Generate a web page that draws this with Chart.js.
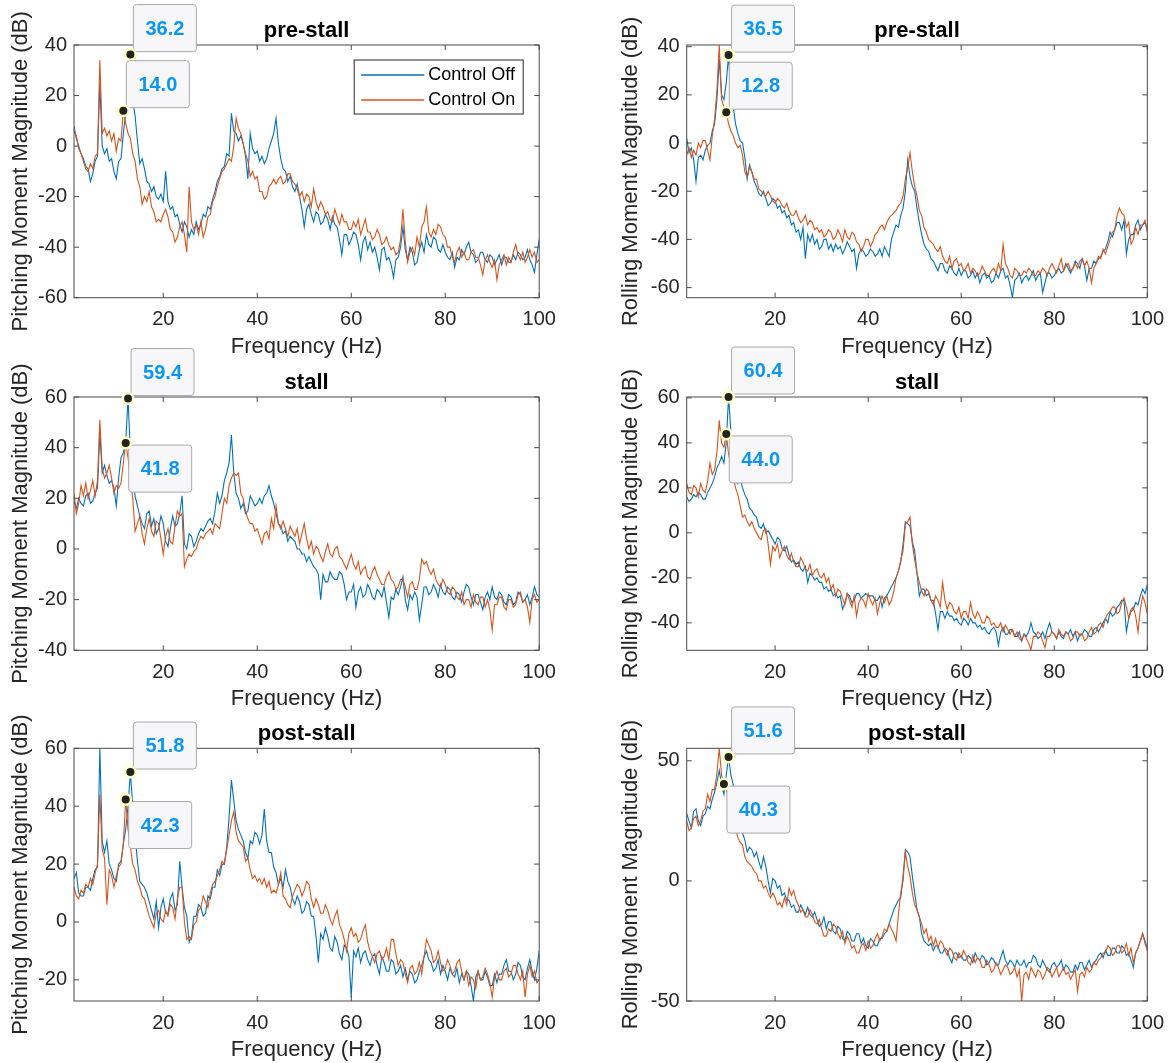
<!DOCTYPE html>
<html>
<head>
<meta charset="utf-8">
<script src="https://cdn.jsdelivr.net/npm/chart.js@4/dist/chart.umd.min.js"></script>
<style>
  html, body { margin: 0; padding: 0; background: #fff; }
  body { width: 1174px; height: 1063px; position: relative; overflow: hidden; }
  canvas { position: absolute; }
</style>
</head>
<body>
<canvas id="c1"></canvas>
<canvas id="c2"></canvas>
<canvas id="c3"></canvas>
<canvas id="c4"></canvas>
<canvas id="c5"></canvas>
<canvas id="c6"></canvas>
<script>
// Frecuencias (Hz) compartidas por todas las curvas, paso de 0.5 Hz
const freq = [
  1, 1.5, 2, 2.5, 3, 3.5, 4, 4.5, 5, 5.5, 6, 6.5, 7, 7.5, 8, 8.5, 9, 9.5, 10, 10.5,
  11, 11.5, 12, 12.5, 13, 13.5, 14, 14.5, 15, 15.5, 16, 16.5, 17, 17.5, 18, 18.5, 19, 19.5, 20, 20.5,
  21, 21.5, 22, 22.5, 23, 23.5, 24, 24.5, 25, 25.5, 26, 26.5, 27, 27.5, 28, 28.5, 29, 29.5, 30, 30.5,
  31, 31.5, 32, 32.5, 33, 33.5, 34, 34.5, 35, 35.5, 36, 36.5, 37, 37.5, 38, 38.5, 39, 39.5, 40, 40.5,
  41, 41.5, 42, 42.5, 43, 43.5, 44, 44.5, 45, 45.5, 46, 46.5, 47, 47.5, 48, 48.5, 49, 49.5, 50, 50.5,
  51, 51.5, 52, 52.5, 53, 53.5, 54, 54.5, 55, 55.5, 56, 56.5, 57, 57.5, 58, 58.5, 59, 59.5, 60, 60.5,
  61, 61.5, 62, 62.5, 63, 63.5, 64, 64.5, 65, 65.5, 66, 66.5, 67, 67.5, 68, 68.5, 69, 69.5, 70, 70.5,
  71, 71.5, 72, 72.5, 73, 73.5, 74, 74.5, 75, 75.5, 76, 76.5, 77, 77.5, 78, 78.5, 79, 79.5, 80, 80.5,
  81, 81.5, 82, 82.5, 83, 83.5, 84, 84.5, 85, 85.5, 86, 86.5, 87, 87.5, 88, 88.5, 89, 89.5, 90, 90.5,
  91, 91.5, 92, 92.5, 93, 93.5, 94, 94.5, 95, 95.5, 96, 96.5, 97, 97.5, 98, 98.5, 99, 99.5, 100
];
const seriesNames = ["Control Off", "Control On"];
const xTicks = [20, 40, 60, 80, 100];

// pre-stall, pitching
const pitchPreOff = [
  8, 3, 0, -3, -5, -8, -9, -14, -11, -6, -4, 25, 0, -3, -1, -6, -5, -10, -13, -6,
  -5, 5, 13, 20, 36.2, 18, 12, 2, -7, -5, -9, -14, -15, -18, -16, -20, -21, -19, -22, -10,
  -22, -25, -24, -28, -27, -31, -34, -30, -32, -36, -33, -35, -30, -33, -31, -27, -28, -24, -25, -21,
  -18, -14, -12, -9, -8, -3, -4, 13, 6, 5, 2, 4, 1, -4, -13, 5, -1, -3, -2, -6,
  -4, -7, -5, -1, 2, 5, 11, 1, -5, -9, -10, -14, -12, -16, -18, -15, -20, -25, -32, -25,
  -23, -27, -30, -26, -27, -31, -30, -27, -29, -33, -28, -31, -32, -37, -43, -35, -35, -39, -37, -34,
  -35, -39, -45, -38, -36, -41, -38, -42, -40, -44, -49, -41, -40, -45, -44, -47, -52, -45, -44, -40,
  -32, -41, -45, -40, -42, -47, -46, -41, -38, -42, -35, -39, -40, -36, -37, -41, -42, -39, -42, -44,
  -45, -42, -48, -44, -45, -41, -43, -40, -38, -42, -43, -46, -45, -42, -42, -45, -46, -43, -44, -47,
  -45, -43, -47, -44, -44, -46, -46, -43, -45, -42, -43, -45, -44, -41, -45, -47, -50, -43, -37
];
const pitchPreOn = [
  6, 4, -1, -3, -6, -9, -10, -7, -9, -4, -3, 34, 5, 7, 4, 6, 2, 5, -2, 3,
  2, 14, 9, 5, 3, -3, -6, -13, -16, -23, -20, -22, -18, -24, -26, -30, -29, -30, -27, -25,
  -28, -33, -34, -38, -36, -32, -30, -35, -42, -16, -30, -33, -31, -35, -30, -36, -33, -28, -27, -22,
  -20, -16, -13, -10, -9, -7, -5, -6, 0, 11, 7, 5, 1, -3, -6, -12, -10, -13, -12, -18,
  -18, -21, -20, -16, -15, -13, -15, -13, -12, -15, -14, -11, -11, -14, -15, -17, -20, -18, -22, -19,
  -20, -24, -17, -22, -25, -22, -24, -27, -26, -29, -30, -25, -28, -31, -27, -30, -30, -33, -33, -30,
  -32, -29, -35, -32, -29, -34, -34, -37, -36, -33, -35, -39, -38, -36, -39, -41, -40, -43, -42, -37,
  -25, -38, -46, -42, -40, -43, -36, -40, -32, -30, -24, -34, -36, -33, -35, -31, -32, -35, -36, -40,
  -40, -44, -46, -42, -40, -44, -42, -45, -45, -42, -41, -44, -44, -47, -51, -45, -43, -46, -48, -45,
  -53, -47, -45, -43, -47, -44, -46, -42, -39, -43, -45, -42, -46, -44, -41, -44, -42, -46, -45
];
const pitchPreTips = [[13, 36.2], [11.5, 14.0]];
const pitchPreTicks = [-60, -40, -20, 0, 20, 40];

// pre-stall, rolling
const rollPreOff = [
  2, -4, -2, -7, -16, -6, -5, -7, -3, -1, 0, 5, 8, 18, 35, 20, 18, 25, 36.5, 20,
  15, 8, 4, 1, 0, -6, -15, -9, -12, -16, -18, -21, -22, -20, -23, -26, -25, -23, -24, -27,
  -26, -29, -28, -31, -30, -34, -33, -37, -36, -40, -35, -48, -38, -41, -38, -42, -40, -44, -43, -40,
  -40, -44, -42, -45, -42, -44, -43, -46, -44, -41, -43, -45, -44, -52, -46, -44, -45, -47, -46, -44,
  -45, -47, -46, -44, -47, -43, -45, -47, -40, -37, -34, -35, -30, -27, -20, -7, -14, -18, -20, -27,
  -33, -38, -42, -44, -45, -48, -49, -51, -53, -50, -50, -53, -54, -51, -52, -54, -55, -52, -55, -53,
  -53, -56, -55, -53, -56, -54, -58, -55, -54, -56, -55, -58, -57, -54, -56, -53, -52, -56, -55, -59,
  -64, -57, -56, -54, -58, -56, -55, -57, -55, -53, -57, -55, -54, -62, -58, -54, -54, -56, -55, -53,
  -52, -54, -53, -50, -52, -54, -52, -49, -50, -52, -48, -51, -57, -52, -52, -49, -50, -48, -47, -45,
  -44, -41, -37, -39, -36, -33, -33, -36, -32, -46, -40, -38, -38, -34, -32, -36, -34, -33, -36
];
const rollPreOn = [
  -5, -2, -6, -3, -5, 0, -2, 1, 1, -3, -7, 3, 10, 22, 40.7, 18, 15, 12.8, 8, 5,
  3, 0, -2, -1, -5, -12, -14, -10, -12, -15, -15, -19, -20, -21, -22, -20, -22, -24, -25, -23,
  -24, -26, -27, -25, -28, -30, -30, -28, -31, -33, -32, -30, -34, -32, -33, -36, -35, -37, -36, -39,
  -38, -36, -37, -40, -39, -36, -38, -41, -36, -39, -40, -37, -38, -41, -42, -45, -43, -40, -40, -43,
  -41, -38, -37, -35, -34, -36, -33, -31, -30, -29, -28, -26, -25, -22, -15, -10, -4, -12, -18, -22,
  -28, -30, -35, -37, -40, -41, -42, -44, -45, -43, -47, -49, -50, -47, -52, -49, -48, -51, -50, -53,
  -52, -50, -54, -52, -53, -55, -54, -51, -53, -55, -55, -53, -52, -54, -50, -53, -42, -50, -52, -55,
  -56, -52, -53, -55, -55, -53, -54, -52, -53, -55, -55, -53, -54, -52, -53, -55, -52, -50, -52, -54,
  -51, -48, -53, -51, -50, -53, -52, -50, -52, -49, -48, -51, -49, -52, -58, -52, -50, -47, -48, -44,
  -46, -43, -40, -37, -36, -30, -27, -29, -30, -35, -33, -42, -40, -35, -38, -34, -34, -32, -37
];
const rollPreTips = [[10, 36.5], [9.5, 12.8]];
const rollPreTicks = [-60, -40, -20, 0, 20, 40];

// stall, pitching
const pitchStallOff = [
  19, 16, 20, 18, 17, 21, 22, 18, 19, 22, 24, 46, 30, 33, 29, 26, 27, 24, 17, 28,
  36, 38, 42, 59.4, 38, 28, 21, 17, 13, 10, 8, 14, 15, 9, 12, 6, 8, 13, 10, 3,
  1, 8, 13, 9, 10, 14, 21, 2, 0, 6, 5, 1, 3, 6, 8, 7, 9, 11, 12, 10,
  15, 22, 18, 21, 27, 30, 34, 45, 30, 22, 20, 16, 18, 14, 15, 21, 19, 17, 18, 20,
  18, 21, 22, 25, 21, 18, 14, 10, 9, 6, 7, 3, 5, 4, 3, 0, 0, -2, -2, -5,
  -3, -5, -7, -8, -10, -20, -10, -13, -13, -9, -11, -12, -12, -9, -10, -14, -20, -17, -17, -14,
  -23, -17, -15, -19, -18, -14, -16, -19, -20, -16, -17, -19, -15, -21, -27, -19, -20, -16, -18, -15,
  -11, -20, -24, -18, -20, -17, -19, -28, -22, -15, -15, -18, -17, -14, -16, -19, -14, -17, -18, -15,
  -16, -19, -20, -17, -18, -21, -17, -14, -15, -19, -22, -18, -18, -21, -24, -19, -17, -20, -15, -19,
  -20, -17, -18, -21, -22, -18, -19, -22, -21, -17, -18, -21, -20, -18, -22, -19, -15, -18, -19
];
const pitchStallOn = [
  22, 14, 18, 25, 21, 26, 20, 23, 27, 21, 27, 51, 32, 28, 30, 33, 28, 22, 25, 24,
  26, 34, 41.8, 36, 28, 20, 7, 10, 13, 6, 2, 8, 12, 7, 5, 11, 10, 4, -2, 5,
  8, 3, 2, 9, 15, 13, 14, -7, -4, -2, -3, -1, 0, 3, 5, 4, 6, 7, 8, 6,
  10, 9, 8, 14, 20, 18, 25, 28, 30, 29, 30, 22, 20, 15, 12, 10, 10, 7, 8, 5,
  2, 6, 7, 4, 12, 8, 17, 10, 8, 11, 8, 5, 9, 7, 5, 8, 2, 6, 10, 4,
  0, 3, -2, 1, 0, -3, -5, -1, 2, -2, -3, 0, 1, -3, -4, -6, -8, -5, -2, -6,
  -8, -5, -10, -8, -7, -11, -12, -9, -7, -10, -12, -14, -14, -11, -9, -12, -13, -16, -15, -12,
  -12, -15, -19, -14, -13, -16, -16, -12, -4, -6, -5, -8, -10, -8, -12, -14, -15, -12, -14, -17,
  -18, -15, -16, -19, -20, -17, -22, -20, -20, -23, -18, -21, -22, -19, -19, -23, -20, -24, -32, -22,
  -22, -19, -19, -23, -24, -20, -20, -23, -22, -18, -17, -21, -20, -23, -29, -20, -18, -21, -20
];
const pitchStallTips = [[12.5, 59.4], [12, 41.8]];
const pitchStallTicks = [-40, -20, 0, 20, 40, 60];

// stall, rolling
const rollStallOff = [
  16, 14, 15, 17, 16, 18, 17, 15, 15, 18, 20, 22, 25, 29, 31, 34, 31, 40, 60.4, 45,
  40, 30, 22, 24, 20, 17, 15, 11, 10, 8, 7, 3, 2, 4, 0, 1, -1, -3, -5, -2,
  -3, -7, -8, -6, -10, -13, -12, -14, -13, -16, -17, -15, -22, -18, -19, -21, -20, -22, -22, -25,
  -24, -26, -25, -28, -27, -29, -28, -34, -31, -27, -28, -31, -30, -27, -27, -29, -28, -27, -28, -28,
  -28, -30, -30, -28, -33, -29, -28, -26, -24, -22, -20, -17, -13, -5, 5, 4, 3, -4, -8, -18,
  -28, -25, -25, -28, -27, -30, -30, -36, -43, -35, -35, -38, -35, -37, -37, -39, -38, -40, -41, -38,
  -39, -41, -38, -40, -40, -42, -41, -43, -42, -44, -45, -43, -42, -44, -50, -44, -42, -45, -45, -43,
  -43, -46, -46, -44, -48, -45, -46, -44, -40, -44, -45, -47, -46, -44, -47, -43, -40, -44, -45, -47,
  -44, -46, -47, -44, -45, -43, -46, -44, -48, -45, -45, -43, -44, -46, -46, -43, -42, -44, -42, -40,
  -38, -40, -35, -37, -36, -33, -32, -30, -30, -44, -38, -35, -34, -31, -32, -28, -25, -27, -23
];
const rollStallOn = [
  22, 18, 17, 21, 20, 16, 22, 19, 18, 23, 31, 26, 28, 36, 50, 40, 38, 44.0, 35, 30,
  25, 20, 17, 12, 7, 8, 5, 3, 5, 2, 0, -2, -3, 1, 2, -5, -14, -6, -8, -5,
  -11, -8, -6, -10, -12, -9, -13, -15, -15, -11, -13, -16, -17, -14, -19, -17, -16, -19, -20, -18,
  -22, -20, -25, -23, -28, -25, -26, -29, -32, -27, -30, -33, -28, -37, -31, -29, -30, -33, -27, -30,
  -32, -29, -36, -31, -28, -31, -28, -32, -30, -26, -20, -17, -12, -8, 4, 5, 7, -5, -12, -18,
  -22, -26, -28, -25, -26, -30, -32, -28, -30, -33, -22, -30, -34, -31, -32, -35, -36, -33, -38, -35,
  -35, -38, -31, -36, -38, -35, -37, -40, -40, -37, -38, -41, -40, -42, -42, -40, -44, -41, -43, -45,
  -43, -46, -44, -47, -48, -45, -47, -49, -52, -46, -46, -44, -45, -48, -51, -46, -46, -44, -45, -47,
  -43, -45, -46, -44, -45, -48, -47, -44, -44, -46, -45, -48, -47, -44, -42, -45, -44, -41, -40, -42,
  -38, -36, -35, -33, -33, -36, -35, -31, -29, -33, -38, -34, -33, -37, -44, -34, -28, -31, -36
];
const rollStallTips = [[10, 60.4], [9.5, 44.0]];
const rollStallTicks = [-40, -20, 0, 20, 40, 60];

// post-stall, pitching
const pitchPostOff = [
  15, 17, 10, 9, 9, 12, 12, 11, 15, 18, 19, 60, 28, 24, 28, 20, 18, 15, 14, 20,
  21, 27, 32, 40, 51.8, 40, 30, 21, 14, 13, 12, 10, 7, 4, 1, 7, -2, 5, 8, 3,
  3, 8, 10, 4, 6, 21, 12, 5, 2, -7, -5, 2, 2, 6, 5, 2, 3, 9, 8, 12,
  12, 18, 16, 20, 20, 26, 36, 49, 42, 35, 32, 30, 28, 24, 22, 28, 27, 31, 30, 27,
  30, 39, 28, 24, 24, 19, 17, 13, 15, 12, 18, 14, 12, 8, 6, 9, 7, 3, 4, 7,
  6, 2, 2, -5, -14, -4, -6, -2, -5, -9, -10, -5, -7, -11, -13, -8, -9, -12, -26, -10,
  -12, -9, -14, -11, -10, -13, -15, -12, -11, -15, -18, -12, -14, -17, -17, -13, -14, -18, -17, -15,
  -19, -16, -20, -17, -18, -21, -20, -17, -15, -12, -10, -13, -14, -17, -16, -13, -18, -15, -17, -20,
  -16, -18, -19, -16, -21, -18, -20, -17, -18, -22, -27.3, -19, -17, -20, -20, -17, -19, -22, -22, -18,
  -21, -18, -18, -15, -13, -17, -17, -20, -18, -14, -15, -19, -20, -16, -13, -17, -20, -16, -10
];
const pitchPostOn = [
  12, 9, 8, 11, 10, 13, 12, 15, 13, 17, 20, 44, 25, 22, 6, 18, 16, 12, 16, 19,
  20, 27, 42.3, 32, 26, 20, 18, 14, 12, 9, 8, 5, 2, 0, -2, 3, 4, 1, 0, 4,
  2, 6, 5, 1, 8, 12, 12, 0, -6, -5, -6, -1, 0, 4, 5, 9, 7, 5, 10, 13,
  14, 16, 18, 21, 20, 25, 30, 35, 38, 31, 28, 27, 26, 21, 22, 18, 15, 16, 14, 15,
  13, 15, 12, 14, 10, 11, 10, 13, 17, 9, 8, 6, 5, 9, 11, 13, 12, 9, 11, 14,
  13, 8, 5, 8, 6, 3, 3, 6, 4, 1, -1, 2, 4, -1, -3, -6, -10, -4, -2, -5,
  -4, -7, -6, -3, -1, -7, -10, -12, -14, -11, -10, -13, -12, -9, -13, -6, -6, -11, -15, -13,
  -14, -18, -21, -16, -15, -18, -17, -14, -18, -12, -6, -8, -10, -14, -13, -10, -14, -17, -16, -13,
  -15, -18, -17, -14, -13, -17, -20, -17, -22, -19, -20, -23, -17, -20, -19, -16, -18, -21, -26, -19,
  -17, -20, -20, -17, -16, -19, -18, -15, -15, -18, -20, -17, -26, -18, -15, -19, -17, -21, -20
];
const pitchPostTips = [[13, 51.8], [12, 42.3]];
const pitchPostTicks = [-20, 0, 20, 40, 60];

// post-stall, rolling
const rollPostOff = [
  28, 25, 22, 29, 30, 25, 23, 27, 28, 31, 30, 34, 37, 41, 46, 40, 36, 44, 51.6, 44,
  40, 33, 28, 24, 20, 17, 12, 14, 13, 10, 12, 8, 5, 10, 6, 0, -5, 1, 0, -3,
  -2, -6, -5, -8, -8, -11, -10, -13, -13, -10, -12, -14, -11, -14, -15, -13, -16, -19, -18, -15,
  -20, -17, -17, -21, -22, -19, -20, -24, -25, -21, -22, -25, -25, -22, -22, -26, -24, -27, -28, -24,
  -25, -27, -27, -24, -24, -22, -21, -18, -15, -12, -10, -8, -7, 2, 13, 12, 10, 2, -5, -12,
  -15, -22, -25, -26, -27, -26, -29, -27, -27, -30, -30, -28, -29, -32, -34, -30, -30, -32, -31, -33,
  -33, -31, -32, -34, -30, -32, -33, -31, -32, -35, -34, -32, -33, -35, -35, -32, -29, -33, -35, -33,
  -34, -36, -33, -35, -35, -33, -36, -34, -34, -31, -32, -35, -36, -33, -35, -37, -38, -35, -34, -36,
  -35, -33, -37, -35, -36, -38, -38, -35, -37, -34, -34, -37, -35, -33, -36, -34, -33, -31, -30, -32,
  -29, -31, -31, -28, -28, -30, -30, -27, -28, -31, -30, -33, -36, -30, -28, -25, -22, -25, -28
];
const rollPostOn = [
  25, 21, 22, 26, 27, 23, 25, 29, 30, 36, 33, 38, 38, 45, 55.2, 44, 40.3, 38, 35, 30,
  25, 22, 18, 16, 15, 10, 8, 7, 6, 4, 3, 0, 0, -3, -2, -5, -7, -5, -7, -10,
  -9, -11, -7, -10, -3, -6, -4, -8, -10, -13, -12, -15, -15, -12, -14, -17, -18, -16, -20, -23,
  -23, -20, -21, -18, -19, -22, -24, -21, -26, -23, -25, -28, -27, -30, -30, -27, -26, -29, -25, -28,
  -27, -24, -22, -25, -23, -20, -21, -18, -20, -22, -25, -14, -5, 0, 12, 6, 2, -5, -10, -12,
  -15, -18, -22, -20, -25, -23, -27, -24, -28, -25, -26, -29, -31, -28, -29, -32, -33, -30, -32, -29,
  -31, -34, -35, -31, -34, -32, -33, -36, -36, -33, -35, -38, -37, -34, -36, -39, -37, -35, -36, -39,
  -38, -36, -40, -37, -50, -39, -38, -41, -36, -38, -40, -37, -38, -41, -39, -36, -37, -40, -38, -36,
  -40, -38, -36, -39, -38, -41, -39, -37, -46, -39, -38, -40, -36, -38, -37, -34, -35, -33, -32, -30,
  -30, -27, -28, -31, -30, -27, -27, -30, -29, -26, -31, -28, -34, -30, -28, -25, -22, -26, -29
];
const rollPostTips = [[10, 51.6], [9, 40.3]];
const rollPostTicks = [-50, 0, 50];

const BLUE = "#0072BD";
const ORANGE = "#D95319";
const AXIS = "#262626";
const FONT = "'Liberation Sans', Arial, Helvetica, sans-serif";

// Geometría de filas/columnas (px de la página)
const cols = [
  { left: 0, width: 580, plotL: 74, plotR: 539.2, titleOff: 8 },
  { left: 596, width: 578, plotL: 686.7, plotR: 1150.5, titleOff: 22 }
];
const rows = [
  { top: 0, height: 362, plotT: 45, plotB: 297.7 },
  { top: 345, height: 369, plotT: 397, plotB: 650.3 },
  { top: 700, height: 363, plotT: 748.3, plotB: 1001 }
];

const panels = [
  { id: "c1", row: 0, col: 0, title: "pre-stall", yLabel: "Pitching Moment Magnitude (dB)",
    off: pitchPreOff, on: pitchPreOn, yMin: -60, yMax: 40, yTicks: pitchPreTicks,
    tips: pitchPreTips, tipSides: ["up", "up"], legend: true },
  { id: "c2", row: 0, col: 1, title: "pre-stall", yLabel: "Rolling Moment Magnitude (dB)",
    off: rollPreOff, on: rollPreOn, yMin: -64.2, yMax: 40.7, yTicks: rollPreTicks,
    tips: rollPreTips, tipSides: ["up", "up"] },
  { id: "c3", row: 1, col: 0, title: "stall", yLabel: "Pitching Moment Magnitude (dB)",
    off: pitchStallOff, on: pitchStallOn, yMin: -40, yMax: 60, yTicks: pitchStallTicks,
    tips: pitchStallTips, tipSides: ["up", "down"] },
  { id: "c4", row: 1, col: 1, title: "stall", yLabel: "Rolling Moment Magnitude (dB)",
    off: rollStallOff, on: rollStallOn, yMin: -52.2, yMax: 60.4, yTicks: rollStallTicks,
    tips: rollStallTips, tipSides: ["up", "down"] },
  { id: "c5", row: 2, col: 0, title: "post-stall", yLabel: "Pitching Moment Magnitude (dB)",
    off: pitchPostOff, on: pitchPostOn, yMin: -27.3, yMax: 60, yTicks: pitchPostTicks,
    tips: pitchPostTips, tipSides: ["up", "down"] },
  { id: "c6", row: 2, col: 1, title: "post-stall", yLabel: "Rolling Moment Magnitude (dB)",
    off: rollPostOff, on: rollPostOn, yMin: -50, yMax: 55.2, yTicks: rollPostTicks,
    tips: rollPostTips, tipSides: ["up", "down"] }
];

// Caja estilo MATLAB con marcas hacia dentro, título, leyenda y datatips
const panelDecor = {
  id: "panelDecor",
  afterDatasetsDraw(chart) {
    const { ctx, chartArea: a, scales: { x, y } } = chart;
    const tl = 5;
    ctx.save();
    ctx.strokeStyle = "#4a4a4a";
    ctx.lineWidth = 1;
    ctx.strokeRect(a.left, a.top, a.right - a.left, a.bottom - a.top);
    ctx.beginPath();
    x.ticks.forEach(t => {
      const px = x.getPixelForValue(t.value);
      ctx.moveTo(px, a.bottom); ctx.lineTo(px, a.bottom - tl);
      ctx.moveTo(px, a.top); ctx.lineTo(px, a.top + tl);
    });
    y.ticks.forEach(t => {
      const py = y.getPixelForValue(t.value);
      ctx.moveTo(a.left, py); ctx.lineTo(a.left + tl, py);
      ctx.moveTo(a.right, py); ctx.lineTo(a.right - tl, py);
    });
    ctx.stroke();
    ctx.restore();
  },
  afterDraw(chart, args, opts) {
    const { ctx, chartArea: a, scales: { x, y } } = chart;
    ctx.save();

    // título
    ctx.fillStyle = "#000";
    ctx.font = "bold 22px " + FONT;
    ctx.textAlign = "center";
    ctx.textBaseline = "alphabetic";
    ctx.fillText(opts.title, (a.left + a.right) / 2, a.top - 8);

    // leyenda
    if (opts.legend) {
      const w = 169, h = 54;
      const lx = a.right - 16 - w, ly = a.top + 15;
      ctx.fillStyle = "#fff";
      ctx.fillRect(lx, ly, w, h);
      ctx.strokeStyle = AXIS;
      ctx.lineWidth = 1;
      ctx.strokeRect(lx, ly, w, h);
      chart.data.datasets.forEach((ds, i) => {
        const yy = ly + 15 + i * 25;
        ctx.strokeStyle = ds.borderColor;
        ctx.lineWidth = 1.3;
        ctx.beginPath();
        ctx.moveTo(lx + 7, yy); ctx.lineTo(lx + 70, yy);
        ctx.stroke();
        ctx.fillStyle = "#000";
        ctx.font = "18px " + FONT;
        ctx.textAlign = "left";
        ctx.textBaseline = "middle";
        ctx.fillText(ds.label, lx + 74, yy);
      });
    }

    // datatips
    opts.tips.forEach((tip, i) => {
      const px = x.getPixelForValue(tip[0]);
      const py = y.getPixelForValue(tip[1]);
      const bw = 63, bh = 47;
      const bx = px + 3;
      const by = opts.tipSides[i] === "up" ? py - 3 - bh : py + 2;
      ctx.fillStyle = "#F7F7FA";
      ctx.strokeStyle = "#A8A8A8";
      ctx.lineWidth = 1;
      ctx.beginPath();
      ctx.roundRect(bx, by, bw, bh, 3);
      ctx.fill();
      ctx.stroke();
      ctx.fillStyle = "#0A96F5";
      ctx.font = "bold 20px " + FONT;
      ctx.textAlign = "center";
      ctx.textBaseline = "middle";
      ctx.fillText(tip[1].toFixed(1), bx + bw / 2, by + bh / 2 + 1);

      ctx.fillStyle = "rgba(255, 255, 190, 0.95)";
      ctx.beginPath(); ctx.arc(px, py, 6.5, 0, Math.PI * 2); ctx.fill();
      ctx.fillStyle = "#222";
      ctx.beginPath(); ctx.arc(px, py, 4, 0, Math.PI * 2); ctx.fill();
    });
    ctx.restore();
  }
};

function buildChart(p) {
  const r = rows[p.row], c = cols[p.col];
  const canvas = document.getElementById(p.id);
  canvas.width = c.width;
  canvas.height = r.height;
  canvas.style.left = c.left + "px";
  canvas.style.top = r.top + "px";

  const axisW = c.plotL - c.left;
  const axisH = r.top + r.height - r.plotB;
  const tickFont = { family: FONT, size: 20 };
  const labelFont = { family: FONT, size: 22 };

  return new Chart(canvas, {
    type: "line",
    data: {
      datasets: [
        { label: seriesNames[0], data: freq.map((f, i) => ({ x: f, y: p.off[i] })),
          borderColor: BLUE, borderWidth: 1.1, pointRadius: 0, tension: 0, order: 1 },
        { label: seriesNames[1], data: freq.map((f, i) => ({ x: f, y: p.on[i] })),
          borderColor: ORANGE, borderWidth: 1.1, pointRadius: 0, tension: 0, order: 0 }
      ]
    },
    options: {
      responsive: false,
      animation: false,
      devicePixelRatio: 1,
      events: [],
      layout: { padding: { top: r.plotT - r.top, right: c.left + c.width - c.plotR, left: 0, bottom: 0 } },
      plugins: {
        legend: { display: false },
        tooltip: { enabled: false },
        panelDecor: { title: p.title, legend: !!p.legend, tips: p.tips, tipSides: p.tipSides }
      },
      scales: {
        x: {
          type: "linear", min: 1, max: 100,
          afterBuildTicks: s => { s.ticks = xTicks.map(v => ({ value: v })); },
          afterFit: s => { s.height = axisH; },
          grid: { display: false, drawTicks: false },
          border: { display: false },
          ticks: { font: tickFont, color: AXIS, padding: 10, maxRotation: 0, autoSkip: false },
          title: { display: true, text: "Frequency (Hz)", font: labelFont, color: AXIS,
                   padding: { top: 0, bottom: axisH - 49 - 13.2 } }
        },
        y: {
          type: "linear", min: p.yMin, max: p.yMax,
          afterBuildTicks: s => { s.ticks = p.yTicks.map(v => ({ value: v })); },
          afterFit: s => { s.width = axisW; },
          grid: { display: false, drawTicks: false },
          border: { display: false },
          ticks: { font: tickFont, color: AXIS, padding: 7, autoSkip: false },
          title: { display: true, text: p.yLabel, font: labelFont, color: AXIS,
                   padding: { top: c.titleOff, bottom: 0 } }
        }
      }
    },
    plugins: [panelDecor]
  });
}

panels.forEach(buildChart);
</script>
</body>
</html>
